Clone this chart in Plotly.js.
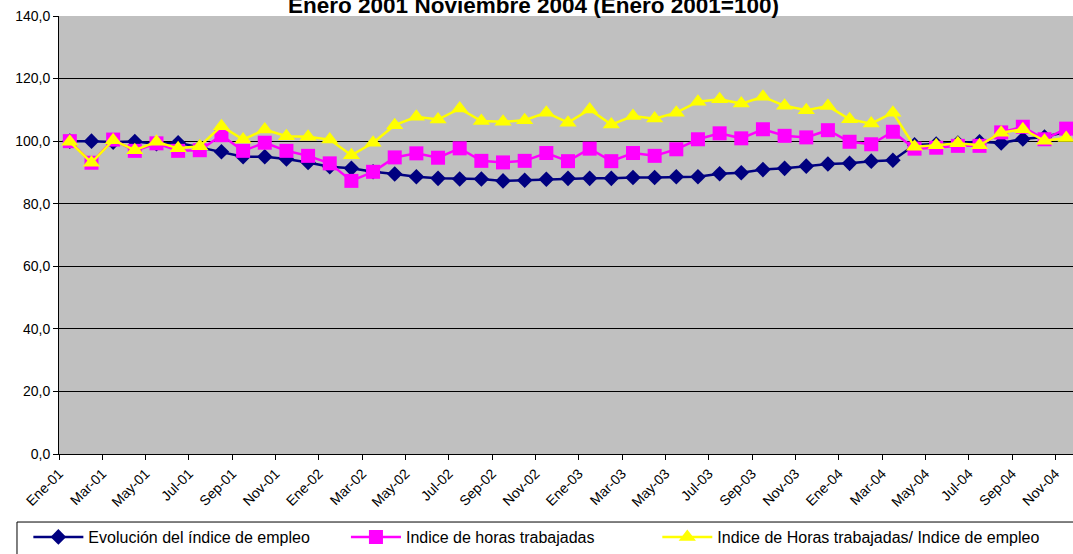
<!DOCTYPE html>
<html>
<head>
<meta charset="utf-8">
<script src="https://cdn.plot.ly/plotly-3.0.1.min.js"></script>
<style>
html,body{margin:0;padding:0;overflow:hidden;background:#fff;width:1073px;height:554px;}
#chart{width:1080px;height:554px;}
</style>
</head>
<body>
<div id="chart"></div>
<script>
// Months Ene-01 .. Nov-04
const months = [
  "Ene-01","Feb-01","Mar-01","Abr-01","May-01","Jun-01","Jul-01","Ago-01","Sep-01","Oct-01","Nov-01","Dic-01",
  "Ene-02","Feb-02","Mar-02","Abr-02","May-02","Jun-02","Jul-02","Ago-02","Sep-02","Oct-02","Nov-02","Dic-02",
  "Ene-03","Feb-03","Mar-03","Abr-03","May-03","Jun-03","Jul-03","Ago-03","Sep-03","Oct-03","Nov-03","Dic-03",
  "Ene-04","Feb-04","Mar-04","Abr-04","May-04","Jun-04","Jul-04","Ago-04","Sep-04","Oct-04","Nov-04"
];

const empleo = [
  100.0,100.0,99.7,99.9,99.2,99.5,98.0,96.6,95.0,95.0,94.3,93.2,
  91.8,91.3,90.2,89.5,88.6,88.1,87.9,87.9,87.3,87.5,87.8,88.1,
  88.1,88.1,88.4,88.4,88.6,88.6,89.6,89.9,90.9,91.3,92.0,92.7,
  92.9,93.6,93.9,98.8,99.1,99.4,99.8,99.4,100.7,101.3,103.0
];

const horas = [
  100.0,93.1,100.5,96.9,99.3,96.9,97.1,101.9,96.9,99.5,96.9,95.3,
  92.9,87.3,90.2,94.8,96.1,94.7,97.7,93.7,93.2,93.7,96.2,93.6,
  97.6,93.6,96.2,95.3,97.4,100.6,102.5,100.9,103.8,101.7,101.2,103.5,
  99.8,99.0,103.0,97.6,97.9,98.5,98.5,102.8,104.6,100.6,104.0
];

const ratio = [
  99.8,93.1,100.3,97.1,99.8,97.7,98.4,104.8,100.5,103.7,101.6,101.4,
  100.5,95.5,99.5,105.1,107.8,106.9,110.4,106.4,106.2,106.7,109.1,105.9,
  110.1,105.3,108.0,107.2,109.1,112.6,113.4,112.0,114.2,111.3,109.9,111.2,
  107.0,105.6,109.1,98.2,98.7,99.3,98.7,102.7,103.8,100.1,101.0
];

const tickLabels = months.filter((m, i) => i % 2 === 0);
const tickPos = months.map((m, i) => i - 0.5).filter((v, i) => i % 2 === 0);

const seriesNames = [
  "Evolución del índice de empleo",
  "Indice de horas trabajadas",
  "Indice de Horas trabajadas/ Indice de empleo"
];

// non-breaking padding so the legend entries sit where the reference has them
const pad = n => "\u00A0".repeat(n);
const legendNames = [seriesNames[0] + pad(7), seriesNames[1] + pad(13), seriesNames[2]];

const traces = [
  {x: months, y: empleo, name: legendNames[0], type: "scatter", mode: "lines+markers",
   line: {color: "#000080", width: 2.5},
   marker: {symbol: "diamond", size: 12, color: "#000080", line: {color: "#000080", width: 0}}},
  {x: months, y: horas, name: legendNames[1], type: "scatter", mode: "lines+markers",
   line: {color: "#FF00FF", width: 2.5},
   marker: {symbol: "square", size: 14, color: "#FF00FF", line: {color: "#FF00FF", width: 0}}},
  {x: months, y: ratio, name: legendNames[2], type: "scatter", mode: "lines+markers",
   line: {color: "#FFFF00", width: 2.5},
   marker: {symbol: "triangle-up", size: 15, color: "#FFFF00", line: {color: "#FFFF00", width: 0}}}
];

const layout = {
  width: 1080, height: 554,
  margin: {l: 59, r: 3, t: 16, b: 100, autoexpand: false},
  paper_bgcolor: "#FFFFFF",
  plot_bgcolor: "#C0C0C0",
  separators: ",.",
  font: {family: "Arial, 'Liberation Sans', sans-serif", color: "#000", size: 14},
  title: {
    text: "<b>Enero 2001 Noviembre 2004 (Enero 2001=100)</b>",
    font: {family: "Arial, 'Liberation Sans', sans-serif", size: 22.5, color: "#000"},
    xref: "container", yref: "container", x: 0.494, xanchor: "center",
    y: 0.9915, yanchor: "middle"
  },
  xaxis: {
    type: "category",
    range: [-0.5, 46.5],
    tickmode: "array", tickvals: tickPos, ticktext: tickLabels,
    tickangle: -45, ticks: "outside", ticklen: 5, tickcolor: "#000", tickwidth: 1,
    showline: true, linecolor: "#000", linewidth: 1,
    showgrid: false, zeroline: false,
    tickfont: {size: 14, color: "#000"}
  },
  yaxis: {
    range: [0, 140], tickmode: "linear", tick0: 0, dtick: 20, tickformat: ".1f",
    ticks: "outside", ticklen: 5, tickcolor: "#000", tickwidth: 1,
    showline: true, linecolor: "#000", linewidth: 1,
    showgrid: true, gridcolor: "#000", gridwidth: 1, zeroline: false,
    tickfont: {size: 14, color: "#000"}
  },
  showlegend: true,
  legend: {
    orientation: "h", x: -0.0301, xanchor: "left", y: -0.1507, yanchor: "top",
    font: {size: 16, color: "#000"}, bgcolor: "rgba(0,0,0,0)", borderwidth: 0,
    itemwidth: 50, traceorder: "normal"
  },
  shapes: [
    {type: "rect", xref: "paper", yref: "paper", x0: -0.04126, x1: 1.05, y0: -0.1553, y1: -0.28,
     line: {color: "#000", width: 1}, fillcolor: "rgba(0,0,0,0)", layer: "above"}
  ]
};

Plotly.newPlot("chart", traces, layout, {displayModeBar: false, staticPlot: true});
</script>
</body>
</html>
